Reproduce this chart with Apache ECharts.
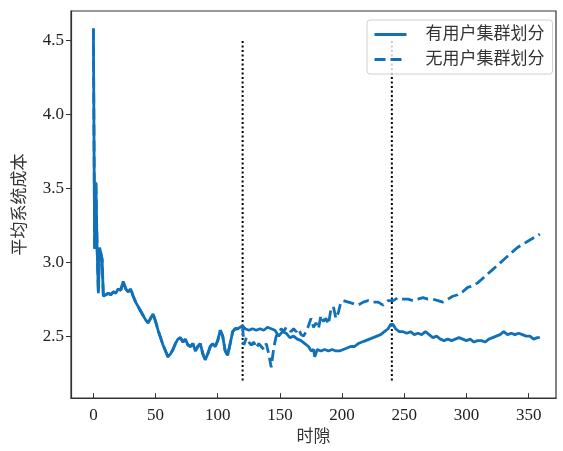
<!DOCTYPE html>
<html>
<head>
<meta charset="utf-8">
<script src="https://cdn.jsdelivr.net/npm/echarts@6/dist/echarts.min.js"></script>
<style>
html, body { margin: 0; padding: 0; background: #fff; }
#main { width: 563px; height: 451px; }
</style>
</head>
<body>
<div id="main"></div>
<script>
// shared part (slots 0..120), both strategies behave the same
var commonSlots = [0, 1, 2, 3, 4, 5, 6, 7, 8, 10, 12, 14, 16, 18, 20, 22, 24, 26, 28, 30, 32, 34, 36, 38, 40, 42, 44, 46, 48, 50,
    52, 54, 56, 58, 60, 62, 64, 66, 68, 70, 72, 74, 76, 78, 80, 82, 84, 86, 88, 90, 92, 94, 96, 98, 100,
    102, 104, 106, 108, 110, 112, 114, 116, 118, 120];
var commonCost = [4.58, 3.09, 3.54, 3.10, 2.79, 3.10, 3.10, 3.02, 2.77, 2.78, 2.79, 2.78, 2.80, 2.79, 2.82, 2.81, 2.87, 2.82, 2.80, 2.82,
    2.77, 2.73, 2.70, 2.67, 2.64, 2.61, 2.59, 2.62, 2.65, 2.60, 2.54, 2.49, 2.44, 2.40, 2.36, 2.38, 2.41, 2.45, 2.48, 2.49,
    2.46, 2.48, 2.44, 2.43, 2.45, 2.40, 2.43, 2.45, 2.38, 2.34, 2.38, 2.43, 2.45, 2.43, 2.47,
    2.54, 2.50, 2.40, 2.37, 2.45, 2.53, 2.55, 2.55, 2.56, 2.57];

// with user clustering
var clusterSlots = [122, 125, 128, 131, 134, 137, 140, 143, 146, 149, 152, 155, 158, 161, 164, 167, 170, 173, 175, 177, 178, 180,
    183, 186, 189, 192, 195, 198, 201, 204, 207, 210, 213, 216, 219, 222, 225, 228, 231, 234, 237, 239, 241, 243,
    246, 249, 252, 255, 258, 261, 264, 267, 270, 273, 276, 279, 282, 285, 288, 291, 294, 297, 300, 303, 306,
    309, 312, 315, 318, 321, 324, 327, 330, 333, 336, 339, 342, 345, 348, 351, 354, 357, 359];
var clusterCost = [2.55, 2.54, 2.55, 2.54, 2.55, 2.54, 2.56, 2.55, 2.54, 2.50, 2.53, 2.52, 2.49, 2.50, 2.48, 2.47, 2.45, 2.43, 2.40, 2.41, 2.36, 2.41,
    2.40, 2.41, 2.40, 2.41, 2.40, 2.40, 2.41, 2.42, 2.43, 2.43, 2.45, 2.46, 2.47, 2.48, 2.49, 2.50, 2.51, 2.53, 2.55, 2.58, 2.58, 2.55,
    2.53, 2.53, 2.52, 2.53, 2.51, 2.52, 2.51, 2.53, 2.51, 2.49, 2.50, 2.48, 2.47, 2.48, 2.47, 2.48, 2.49, 2.48, 2.47, 2.48, 2.46,
    2.47, 2.47, 2.46, 2.48, 2.49, 2.50, 2.51, 2.53, 2.51, 2.52, 2.51, 2.52, 2.51, 2.50, 2.50, 2.48, 2.49, 2.49];

// without user clustering
var noClusterSlots = [121, 123, 125, 127, 129, 131, 133, 135, 137, 139, 141, 143, 145, 147, 149, 151, 153, 155, 157, 159, 161, 163,
    165, 167, 169, 171, 173, 175, 177, 179, 181, 183, 185, 187, 189, 191, 193, 195, 197, 199, 201, 205, 209, 213,
    217, 221, 225, 229, 233, 237, 241, 245, 249, 253, 257, 261, 265, 269, 273, 277, 281, 285, 289, 293, 297,
    301, 305, 309, 313, 317, 321, 325, 329, 333, 337, 341, 345, 349, 353, 357, 359];
var noClusterCost = [2.44, 2.49, 2.46, 2.44, 2.46, 2.42, 2.45, 2.43, 2.41, 2.45, 2.38, 2.29, 2.42, 2.50, 2.52, 2.55, 2.53, 2.56, 2.55, 2.53, 2.55, 2.53,
    2.55, 2.51, 2.50, 2.53, 2.57, 2.62, 2.56, 2.59, 2.55, 2.64, 2.60, 2.62, 2.58, 2.68, 2.70, 2.62, 2.66, 2.73, 2.74, 2.73, 2.72, 2.71,
    2.73, 2.74, 2.73, 2.73, 2.71, 2.74, 2.74, 2.76, 2.75, 2.75, 2.74, 2.75, 2.76, 2.75, 2.75, 2.74, 2.73, 2.75, 2.77, 2.78, 2.80,
    2.83, 2.84, 2.86, 2.89, 2.92, 2.95, 2.98, 3.01, 3.04, 3.07, 3.10, 3.12, 3.14, 3.16, 3.18, 3.19];

var stageBounds = [120, 240];
var boundRange = [2.2, 4.5];
var seriesNames = ['有用户集群划分', '无用户集群划分'];

var fontNum = '"Liberation Serif", "Noto Sans CJK SC", serif';
var blue = '#1070b8';

function pairs(xs, ys) {
    var out = [];
    for (var i = 0; i < xs.length; i++) out.push([xs[i], ys[i]]);
    return out;
}

var withCluster = pairs(commonSlots, commonCost).concat(pairs(clusterSlots, clusterCost));
var withoutCluster = pairs(commonSlots, commonCost).concat(pairs(noClusterSlots, noClusterCost));

var boundSeries = stageBounds.map(function (b) {
    return {
        type: 'line',
        name: 'bound' + b,
        data: [[b, boundRange[0]], [b, boundRange[1]]],
        symbol: 'none',
        silent: true,
        lineStyle: { color: '#000', width: 2, type: [2, 2.5] },
        z: 1
    };
});

var myChart = echarts.init(document.getElementById('main'));
var option = {
    backgroundColor: '#fff',
    animation: false,
    grid: {
        left: 71, right: 7, top: 11, bottom: 50,
        show: true, borderColor: '#333', borderWidth: 1.2, backgroundColor: 'transparent'
    },
    legend: {
        data: seriesNames,
        orient: 'vertical',
        left: 367, top: 20,
        padding: [6, 8, 6, 6],
        itemWidth: 32, itemHeight: 12, itemGap: 8,
        itemStyle: { opacity: 0 },
        lineStyle: { width: 3 },
        backgroundColor: 'rgba(255,255,255,0.8)',
        borderColor: '#d0d0d0', borderWidth: 1, borderRadius: 3,
        textStyle: { fontFamily: fontNum, fontSize: 17, color: '#333', padding: [0, 0, 0, 14] }
    },
    xAxis: {
        type: 'value',
        min: -18, max: 372, splitNumber: 8,
        name: '时隙', nameLocation: 'middle', nameGap: 27,
        nameTextStyle: { fontFamily: fontNum, fontSize: 17, color: '#333' },
        axisLine: { onZero: false, lineStyle: { color: '#333', width: 1.2 } },
        axisTick: { inside: true, length: 5, lineStyle: { color: '#333' } },
        axisLabel: {
            fontFamily: fontNum, fontSize: 17, color: '#222', margin: 9,
            showMinLabel: false, showMaxLabel: false,
            formatter: function (v) { return v % 50 === 0 ? String(v) : ''; }
        },
        splitLine: { show: false }
    },
    yAxis: {
        type: 'value',
        min: 2.081, max: 4.699, splitNumber: 5,
        name: '平均系统成本', nameLocation: 'middle', nameGap: 42,
        nameTextStyle: { fontFamily: fontNum, fontSize: 17, color: '#333' },
        axisLine: { onZero: false, lineStyle: { color: '#333', width: 1.2 } },
        axisTick: { inside: false, length: 5, lineStyle: { color: '#333' } },
        axisLabel: {
            fontFamily: fontNum, fontSize: 17, color: '#222', margin: 7,
            showMinLabel: false, showMaxLabel: false,
            formatter: function (v) {
                var r = Math.round(v * 10) / 10;
                return Math.abs(v * 2 - Math.round(v * 2)) < 1e-6 ? r.toFixed(1) : '';
            }
        },
        splitLine: { show: false }
    },
    series: [{
        type: 'line',
        name: seriesNames[0],
        data: withCluster,
        symbol: 'none',
        lineStyle: { color: blue, width: 2.8 },
        itemStyle: { color: blue },
        z: 3
    }, {
        type: 'line',
        name: seriesNames[1],
        data: withoutCluster,
        symbol: 'none',
        lineStyle: { color: blue, width: 2.8, type: [11, 5] },
        itemStyle: { color: blue },
        z: 4
    }].concat(boundSeries)
};
myChart.setOption(option);
</script>
</body>
</html>
